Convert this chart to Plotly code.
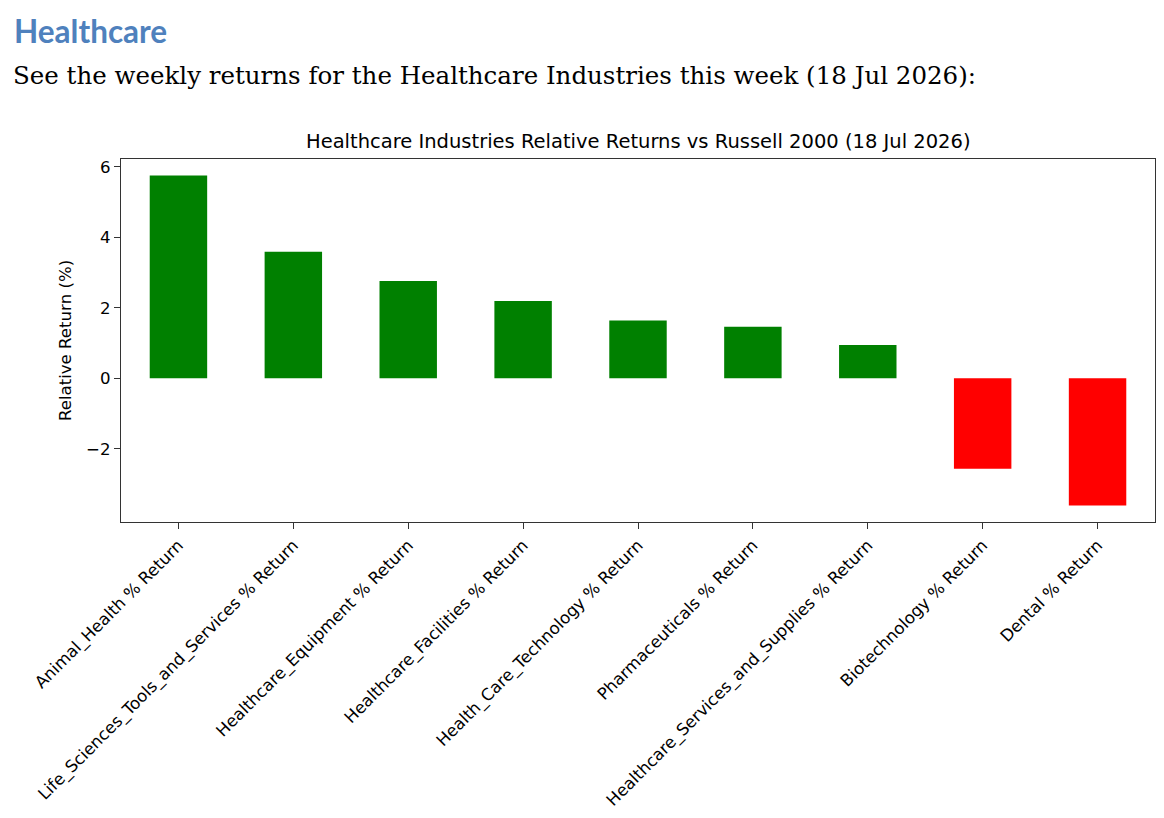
import plotly.graph_objects as go

# weekly relative returns vs Russell 2000
industries = [
    "Animal_Health % Return",
    "Life_Sciences_Tools_and_Services % Return",
    "Healthcare_Equipment % Return",
    "Healthcare_Facilities % Return",
    "Health_Care_Technology % Return",
    "Pharmaceuticals % Return",
    "Healthcare_Services_and_Supplies % Return",
    "Biotechnology % Return",
    "Dental % Return",
]
relative_returns = [5.75, 3.59, 2.76, 2.19, 1.64, 1.46, 0.94, -2.57, -3.61]
y_ticks = [-2, 0, 2, 4, 6]

heading = "Healthcare"
intro = "See the weekly returns for the Healthcare Industries this week (18 Jul 2026):"
chart_title = "Healthcare Industries Relative Returns vs Russell 2000 (18 Jul 2026)"

bar_colors = ["#008000" if v >= 0 else "#FF0000" for v in relative_returns]

fig = go.Figure()
fig.add_trace(
    go.Bar(
        x=list(range(len(industries))),
        y=relative_returns,
        width=0.5,
        marker=dict(color=bar_colors, line=dict(width=0)),
        showlegend=False,
    )
)

# matplotlib-like 5% padding on the value axis
lo, hi = min(relative_returns), max(relative_returns)
pad = (hi - lo) * 0.05

axis_font = dict(family="DejaVu Sans", size=16.6, color="black")
spine = "#333333"

fig.update_xaxes(
    range=[-0.5, len(industries) - 0.5],
    tickmode="array",
    tickvals=list(range(len(industries))),
    ticktext=industries,
    tickangle=-45,
    ticks="outside",
    ticklen=6,
    tickwidth=1.3,
    tickcolor=spine,
    showline=True,
    linecolor=spine,
    linewidth=1.3,
    mirror=True,
    showgrid=False,
    zeroline=False,
    tickfont=axis_font,
)
fig.update_yaxes(
    range=[lo - pad, hi + pad],
    tickmode="array",
    tickvals=y_ticks,
    ticks="outside",
    ticklen=6,
    tickwidth=1.3,
    tickcolor=spine,
    showline=True,
    linecolor=spine,
    linewidth=1.3,
    mirror=True,
    showgrid=False,
    zeroline=False,
    tickfont=axis_font,
    title=dict(text="Relative Return (%)", font=axis_font, standoff=10),
)

# page body adds 8px around the figure, so size it to fit the window
fig_w, fig_h = 1148, 802
m_l, m_t, m_r = 113, 151, 0
plot_w = fig_w - m_l - m_r
plot_h = 368
m_b = fig_h - m_t - plot_h

fig.update_layout(
    width=fig_w,
    height=fig_h,
    margin=dict(l=m_l, r=m_r, t=m_t, b=m_b),
    paper_bgcolor="white",
    plot_bgcolor="white",
    annotations=[
        dict(
            text=chart_title,
            xref="paper",
            yref="paper",
            x=0.5,
            y=1 + 4 / plot_h,
            xanchor="center",
            yanchor="bottom",
            showarrow=False,
            font=dict(family="DejaVu Sans", size=19.5, color="black"),
        ),
        dict(
            text="<b>" + heading + "</b>",
            xref="paper",
            yref="paper",
            x=-109 / plot_w,
            y=1 + 130 / plot_h,
            xanchor="left",
            yanchor="middle",
            showarrow=False,
            font=dict(family="Lato", size=31.5, color="#4F81BD"),
        ),
        dict(
            text=intro,
            xref="paper",
            yref="paper",
            x=-110 / plot_w,
            y=1 + 85 / plot_h,
            xanchor="left",
            yanchor="middle",
            showarrow=False,
            font=dict(family="DejaVu Serif", size=24.5, color="black"),
        ),
    ],
)

fig.write_html("out.html")
